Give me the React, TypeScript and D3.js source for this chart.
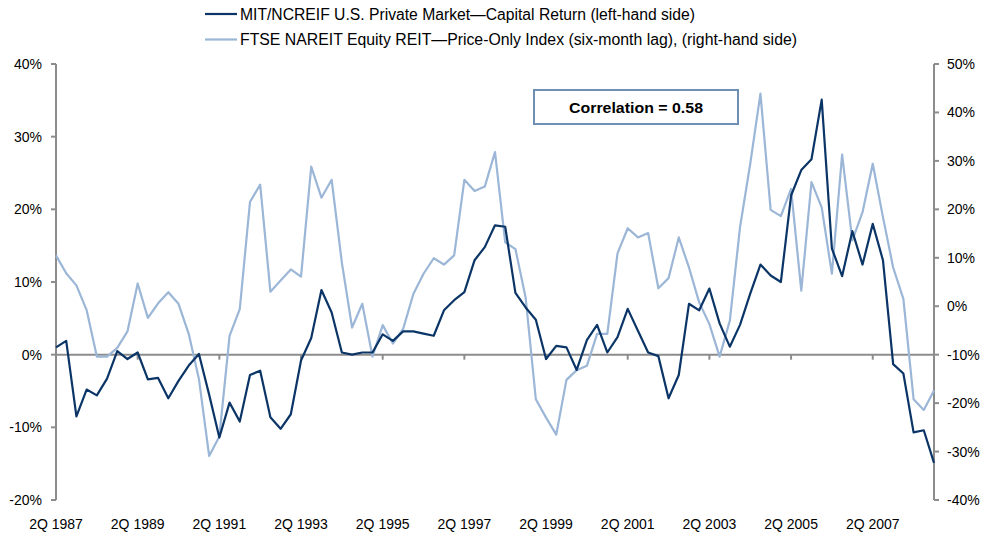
import React from "react";
import * as d3 from "d3";

// Quarterly, 2Q 1987 .. 4Q 2008
const quarters: string[] = (() => {
  const out: string[] = [];
  let q = 2, y = 1987;
  for (let i = 0; i < 87; i++) {
    out.push(`${q}Q ${y}`);
    q++;
    if (q > 4) { q = 1; y++; }
  }
  return out;
})();

const ncreif: number[] = [
  1.0, 1.9, -8.5, -4.8, -5.6, -3.3, 0.5, -0.6, 0.3, -3.4,
  -3.2, -6.0, -3.6, -1.5, 0.1, -5.5, -11.4, -6.6, -9.2, -2.8,
  -2.2, -8.6, -10.2, -8.2, -0.8, 2.3, 8.9, 5.8, 0.3, 0.0,
  0.3, 0.3, 2.8, 1.9, 3.2, 3.2, 2.9, 2.6, 6.1, 7.5,
  8.6, 13.0, 14.8, 17.8, 17.6, 8.5, 6.5, 4.8, -0.6, 1.2,
  1.0, -2.1, 2.0, 4.1, 0.3, 2.4, 6.3, 3.3, 0.3, -0.2,
  -6.0, -2.8, 7.0, 6.1, 9.1, 4.3, 1.1, 4.1, 8.4, 12.4,
  10.9, 10.0, 21.9, 25.4, 26.9, 35.1, 14.6, 10.8, 17.0, 12.4,
  18.0, 13.0, -1.3, -2.6, -10.7, -10.4, -14.9,
];

const nareit: number[] = [
  10.5, 6.8, 4.3, -0.8, -10.4, -10.4, -8.6, -5.2, 4.7, -2.4,
  0.6, 2.9, 0.5, -5.7, -15.0, -30.9, -26.9, -6.1, -0.6, 21.5,
  25.1, 3.0, 5.3, 7.6, 6.1, 28.8, 22.4, 26.1, 9.0, -4.4,
  0.5, -10.4, -3.9, -7.7, -4.7, 2.5, 6.7, 9.9, 8.6, 10.5,
  26.1, 23.8, 24.7, 31.8, 13.2, 11.8, 1.8, -19.2, -23.0, -26.5,
  -15.2, -13.2, -12.3, -5.7, -5.7, 10.9, 16.1, 14.2, 15.1, 3.7,
  5.8, 14.2, 8.0, 0.8, -3.7, -10.4, -3.0, 16.3, 29.4, 43.9,
  19.9, 18.6, 24.2, 3.2, 25.6, 20.4, 6.7, 31.3, 13.6, 19.4,
  29.4, 18.4, 8.0, 1.5, -19.2, -21.4, -17.4,
];

const leftTicks: number[] = [-20, -10, 0, 10, 20, 30, 40];
const rightTicks: number[] = [-40, -30, -20, -10, 0, 10, 20, 30, 40, 50];
const xTickLabels: string[] = [
  "2Q 1987", "2Q 1989", "2Q 1991", "2Q 1993", "2Q 1995", "2Q 1997",
  "2Q 1999", "2Q 2001", "2Q 2003", "2Q 2005", "2Q 2007",
];
const seriesNames: string[] = [
  "MIT/NCREIF U.S. Private Market\u2014Capital Return (left-hand side)",
  "FTSE NAREIT Equity REIT\u2014Price-Only Index (six-month lag), (right-hand side)",
];
const correlationText = "Correlation = 0.58";

const W = 984, H = 538;
const DARK = "#0b3566";
const LIGHT = "#9bb6d6";
const AXIS = "#8c8c8c";
const FONT = "'Liberation Sans', Arial, sans-serif";

export default function App() {
  const x = d3.scaleLinear().domain([0, quarters.length - 1]).range([56, 934]);
  const yL = d3.scaleLinear().domain([-20, 40]).range([500, 64]);
  const yR = d3.scaleLinear().domain([-40, 50]).range([500, 64]);

  const lineL = d3.line<number>().x((_, i) => x(i)).y((d) => yL(d));
  const lineR = d3.line<number>().x((_, i) => x(i)).y((d) => yR(d));

  const tickIdx = xTickLabels.map((l) => quarters.indexOf(l));
  const zeroY = yL(0);

  return (
    <svg width={W} height={H} style={{ position: "absolute", left: 0, top: 0, background: "#fff" }}
      fontFamily={FONT}>
      {/* legend */}
      <g fontSize={16} fill="#000">
        <line x1={205} x2={237} y1={14} y2={14} stroke={DARK} strokeWidth={2.2} />
        <text x={240} y={19.5} textLength={455} lengthAdjust="spacingAndGlyphs">{seriesNames[0]}</text>
        <line x1={205} x2={237} y1={39.5} y2={39.5} stroke={LIGHT} strokeWidth={2.2} />
        <text x={240} y={45} textLength={557} lengthAdjust="spacingAndGlyphs">{seriesNames[1]}</text>
      </g>

      {/* left axis */}
      <line x1={56} x2={56} y1={yL(40)} y2={yL(-20)} stroke={AXIS} strokeWidth={2} />
      {leftTicks.map((t) => (
        <g key={"l" + t}>
          <line x1={51} x2={56} y1={yL(t)} y2={yL(t)} stroke={AXIS} strokeWidth={2} />
          <text x={42} y={yL(t) + 5} textAnchor="end" fontSize={14}>{t}%</text>
        </g>
      ))}

      {/* right axis */}
      <line x1={934} x2={934} y1={yR(50)} y2={yR(-40)} stroke={AXIS} strokeWidth={2} />
      {rightTicks.map((t) => (
        <g key={"r" + t}>
          <line x1={934} x2={939} y1={yR(t)} y2={yR(t)} stroke={AXIS} strokeWidth={2} />
          <text x={947} y={yR(t) + 5} textAnchor="start" fontSize={14}>{t}%</text>
        </g>
      ))}

      {/* zero line / category axis */}
      <line x1={56} x2={934} y1={zeroY} y2={zeroY} stroke={AXIS} strokeWidth={2} />
      {tickIdx.map((i, k) => (
        <g key={"x" + k}>
          <line x1={x(i)} x2={x(i)} y1={zeroY} y2={zeroY + 5} stroke={AXIS} strokeWidth={2} />
          <text x={x(i)} y={529} textAnchor="middle" fontSize={14}>{xTickLabels[k]}</text>
        </g>
      ))}

      {/* series */}
      <path d={lineR(nareit) || ""} fill="none" stroke={LIGHT} strokeWidth={2.2} strokeLinejoin="round" />
      <path d={lineL(ncreif) || ""} fill="none" stroke={DARK} strokeWidth={2.2} strokeLinejoin="round" />

      {/* correlation box */}
      <rect x={534} y={90} width={204} height={34} fill="#fff" stroke="#6f8fb3" strokeWidth={2} />
      <text x={569} y={113} fontSize={15.5} fontWeight="bold" textLength={134} lengthAdjust="spacingAndGlyphs">{correlationText}</text>
    </svg>
  );
}
